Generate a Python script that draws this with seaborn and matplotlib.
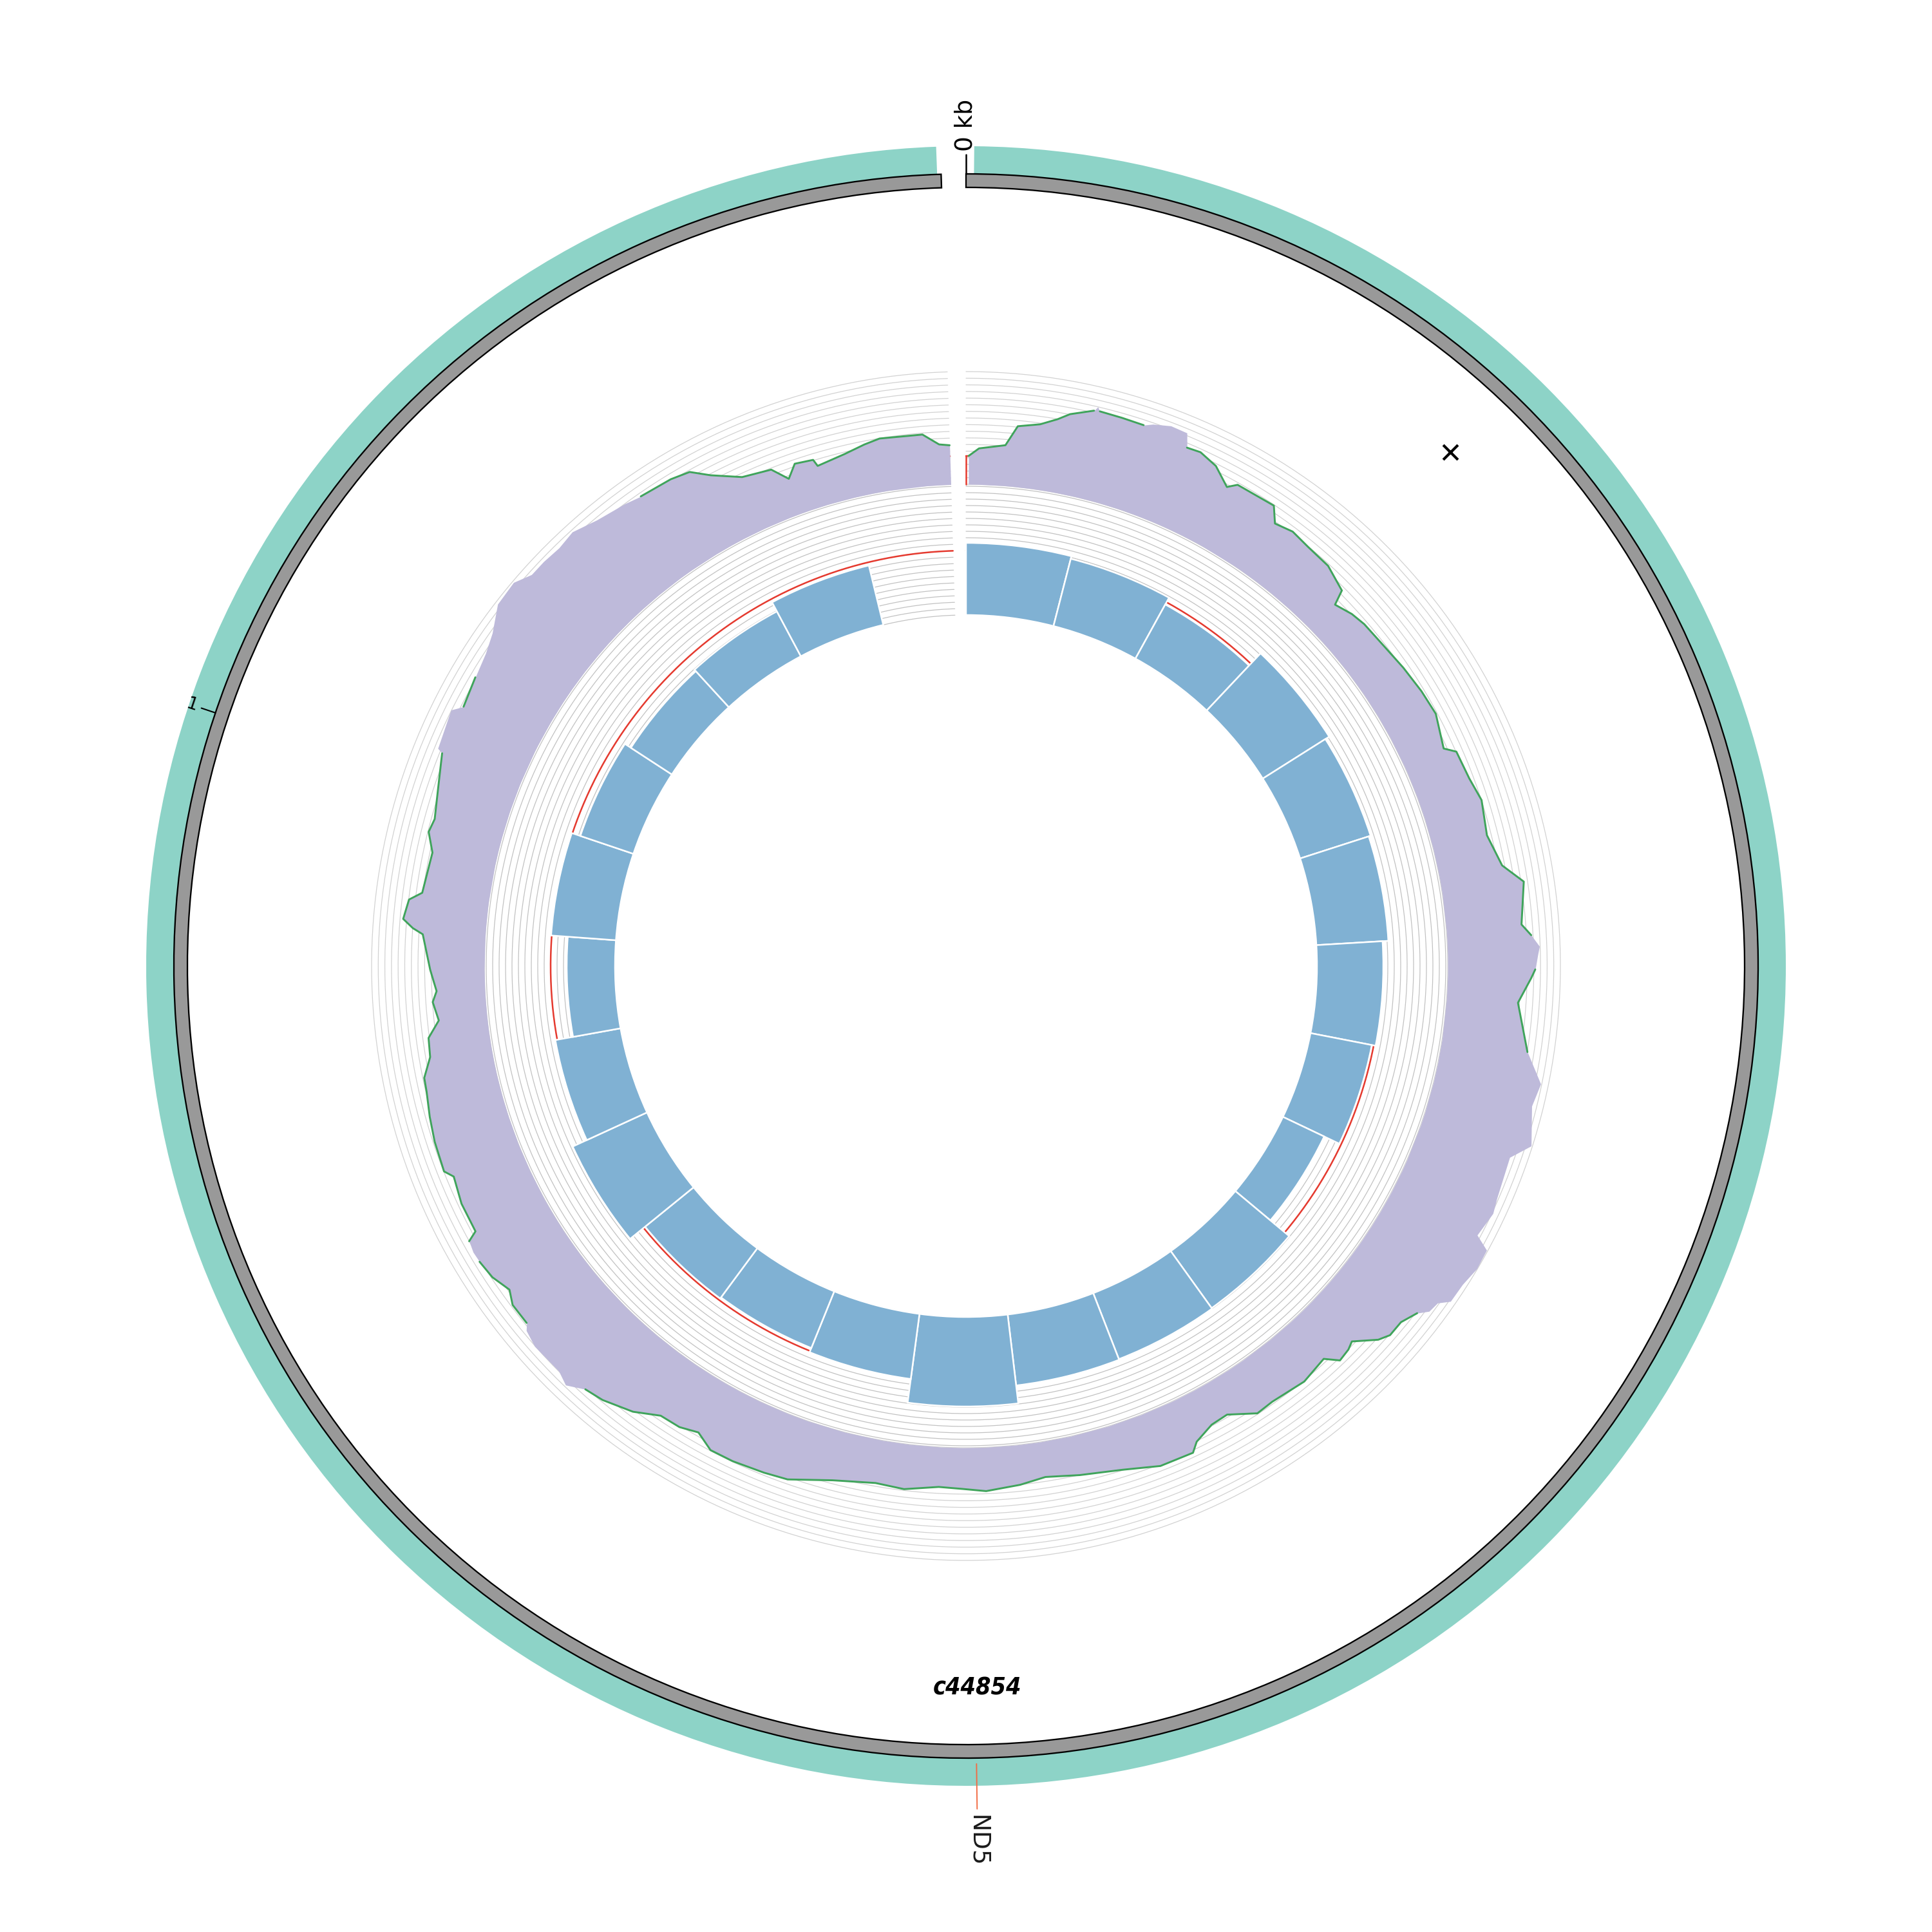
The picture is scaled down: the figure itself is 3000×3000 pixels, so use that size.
import numpy as np
import matplotlib
matplotlib.use("Agg")
import matplotlib.pyplot as plt
import seaborn as sns

######################
## Data
######################

contig = "c44854"
contig_len = 1241          # bp
span_deg = 358.2           # angle used by the contig (rest is the gap)

gene_name = "ND5"
gene_start, gene_end = 2, 1240

tick_pos = [0, 1000]
tick_lab = ["0 kb", "1"]

variant_pos = 150

# inner track: binned coverage (50 bp bins), track range 0-200
bin_size = 50
bin_cov = [112, 108, 96, 122, 115, 112, 103, 97, 71, 109, 110, 111, 139,
           102, 95, 97, 127, 103, 75, 101, 87, 76, 79, 95, 0]
bin_mean = 100

# outer track: per-base depth profile, track range 0-175
depth_pos = [1, 5, 15, 19, 27, 33, 37, 45, 46, 47, 55, 63, 66, 72, 78, 80, 85, 92, 99, 102,
             117, 121, 128, 136, 146, 156, 158, 165, 171, 181, 193, 204, 214, 227, 230, 241,
             250, 263, 275, 282, 297, 301, 305, 308, 313, 316, 325, 342, 352, 360, 373, 379,
             394, 399, 408, 411, 418, 425, 432, 435, 439, 442, 448, 454, 458, 465, 468, 473,
             477, 488, 502, 509, 519, 526, 534, 537, 550, 564, 580, 593, 603, 616, 625, 634,
             647, 658, 674, 690, 699, 711, 720, 727, 734, 742, 751, 762, 769, 775, 780, 792,
             798, 800, 808, 813, 820, 827, 831, 835, 837, 848, 858, 861, 872, 881, 890, 895,
             902, 909, 915, 922, 926, 934, 947, 949, 952, 959, 962, 977, 984, 989, 1000, 1012,
             1013, 1027, 1030, 1041, 1050, 1057, 1066, 1075, 1081, 1087, 1094, 1101, 1110,
             1121, 1127, 1139, 1146, 1152, 1162, 1173, 1178, 1182, 1189, 1190, 1201, 1209,
             1215, 1231, 1237, 1241]
depth_val = [44, 56, 63, 94, 101, 113, 124, 137, 144, 138, 137, 136, 142, 149, 148, 127, 129,
             120, 99, 110, 112, 90, 96, 92, 90, 77, 54, 63, 67, 69, 74, 78, 80, 67, 83, 86,
             93, 86, 99, 128, 117, 131, 143, 140, 136, 130, 111, 134, 163, 157, 173, 147,
             152, 156, 149, 173, 174, 168, 167, 152, 149, 136, 125, 125, 116, 88, 93, 96,
             77, 84, 79, 81, 58, 60, 73, 86, 85, 71, 62, 55, 62, 68, 64, 62, 70, 67, 77, 96,
             99, 102, 102, 87, 95, 96, 116, 131, 136, 152, 144, 145, 139, 131, 131, 121, 132,
             136, 137, 134, 118, 118, 112, 123, 121, 117, 112, 111, 96, 94, 75, 82, 75, 84,
             97, 113, 129, 123, 104, 99, 112, 108, 117, 130, 139, 145, 130, 136, 142, 151,
             171, 173, 160, 160, 158, 162, 151, 144, 139, 136, 131, 111, 87, 80, 57, 76, 73,
             62, 69, 77, 82, 80, 63, 61]
# stretches where the line sits under the filled profile
hidden_spans = [(46, 46), (66, 78), (305, 308), (352, 439), (775, 798), (831, 831),
                (1013, 1027), (1050, 1121)]
depth_ref = 44

######################
## Layout (radii in pixels)
######################

R_BAR_IN, R_BAR_OUT = 545, 745
BAR_MAX = 200
R_DEP_IN, R_DEP_OUT = 748, 923
DEP_MAX = 175
R_IDEO_IN, R_IDEO_OUT = 1209, 1230
R_GENE_OUT = 1273


def theta(bp):
    return np.deg2rad(np.asarray(bp, dtype=float) / contig_len * span_deg)


sns.set_theme(style="white")
plt.rcParams["text.color"] = "black"
pal = sns.color_palette("Set3")
teal, purple, blue = pal[0], pal[2], pal[4]
red = "#e53a2f"
green = "#3fa45b"

fig = plt.figure(figsize=(10, 10), dpi=300)
ax = fig.add_axes([0, 0, 1, 1], projection="polar")
ax.set_theta_zero_location("N")
ax.set_theta_direction(-1)
ax.set_ylim(0, 1500)
ax.axis("off")

t_full = np.linspace(0, theta(contig_len), 600)

# grid circles
for r in np.linspace(R_BAR_IN, R_BAR_OUT, 21):
    ax.plot(t_full, np.full_like(t_full, r), color="#c2c2c2", lw=0.3, zorder=1)
for r in np.linspace(R_DEP_IN, R_DEP_OUT, 18):
    ax.plot(t_full, np.full_like(t_full, r), color="#d2d2d2", lw=0.3, zorder=1)

# inner track: mean line + bars
bar_scale = (R_BAR_OUT - R_BAR_IN) / BAR_MAX
ax.plot(t_full, np.full_like(t_full, R_BAR_IN + bin_mean * bar_scale),
        color=red, lw=0.6, zorder=2)
starts = np.arange(len(bin_cov)) * bin_size
heights = np.array(bin_cov) * bar_scale
keep = heights > 0
ax.bar(theta(starts[keep]), heights[keep], width=theta(bin_size), bottom=R_BAR_IN,
       align="edge", color=blue, edgecolor="white", linewidth=0.6, zorder=3)

# outer track: depth profile
dep_scale = (R_DEP_OUT - R_DEP_IN) / DEP_MAX
t_dep = theta(depth_pos)
r_dep = R_DEP_IN + np.array(depth_val) * dep_scale
ax.plot([0, 0], [R_DEP_IN, R_DEP_IN + depth_ref * dep_scale], color=red, lw=0.6, zorder=1.5)
ax.plot(t_full, np.full_like(t_full, R_DEP_IN + depth_ref * dep_scale),
        color=red, lw=0.6, zorder=1.5)
ax.fill_between(t_dep, R_DEP_IN, r_dep, color=purple, lw=0, zorder=2)
r_line = r_dep.copy()
pos = np.array(depth_pos)
for a, b in hidden_spans:
    r_line[(pos >= a) & (pos <= b)] = np.nan
ax.plot(t_dep, r_line, color=green, lw=0.7, zorder=4)

# ideogram and gene band
ax.bar(theta(gene_start), R_GENE_OUT - R_IDEO_OUT, width=theta(gene_end) - theta(gene_start),
       bottom=R_IDEO_OUT, align="edge", color=teal, linewidth=0, zorder=2)
ax.bar(0, R_IDEO_OUT - R_IDEO_IN, width=theta(contig_len), bottom=R_IDEO_IN,
       align="edge", color="#999999", edgecolor="black", linewidth=0.55, zorder=3)

# ticks
for p, lab in zip(tick_pos, tick_lab):
    th = float(theta(p))
    deg = p / contig_len * span_deg
    if lab.endswith("kb"):
        ax.plot([th, th], [R_IDEO_OUT, 1260], color="black", lw=0.6, zorder=5)
        ax.text(th, 1265, lab, rotation=90 - deg, rotation_mode="anchor",
                ha="left", va="center", fontsize=9, color="black")
    else:
        ax.plot([th, th], [R_IDEO_OUT, 1253], color="black", lw=0.5, zorder=5)
        ax.text(th, 1268, lab, rotation=270 - deg, rotation_mode="anchor",
                ha="center", va="center", fontsize=6.5, color="black")

# gene label
gm = (gene_start + gene_end) / 2
tg = float(theta(gm))
ax.plot([tg, tg], [1239, 1309], color="#f26b43", lw=0.45, zorder=5)
ax.text(tg, 1318, gene_name, rotation=-90, rotation_mode="anchor",
        ha="left", va="center", fontsize=9, color="#1a1a1a")

# variant marker
ax.scatter([float(theta(variant_pos))], [1097], marker="x", s=30, c="black",
           linewidths=1.0, zorder=6)

# contig name
ax.text(float(theta(contig_len / 2)), 1122, contig, ha="center", va="center",
        fontsize=9, fontweight="bold", fontstyle="italic", fontstretch="condensed",
        color="black", family=["DejaVu Sans"])

fig.savefig("out.png", dpi=300, facecolor="white")
